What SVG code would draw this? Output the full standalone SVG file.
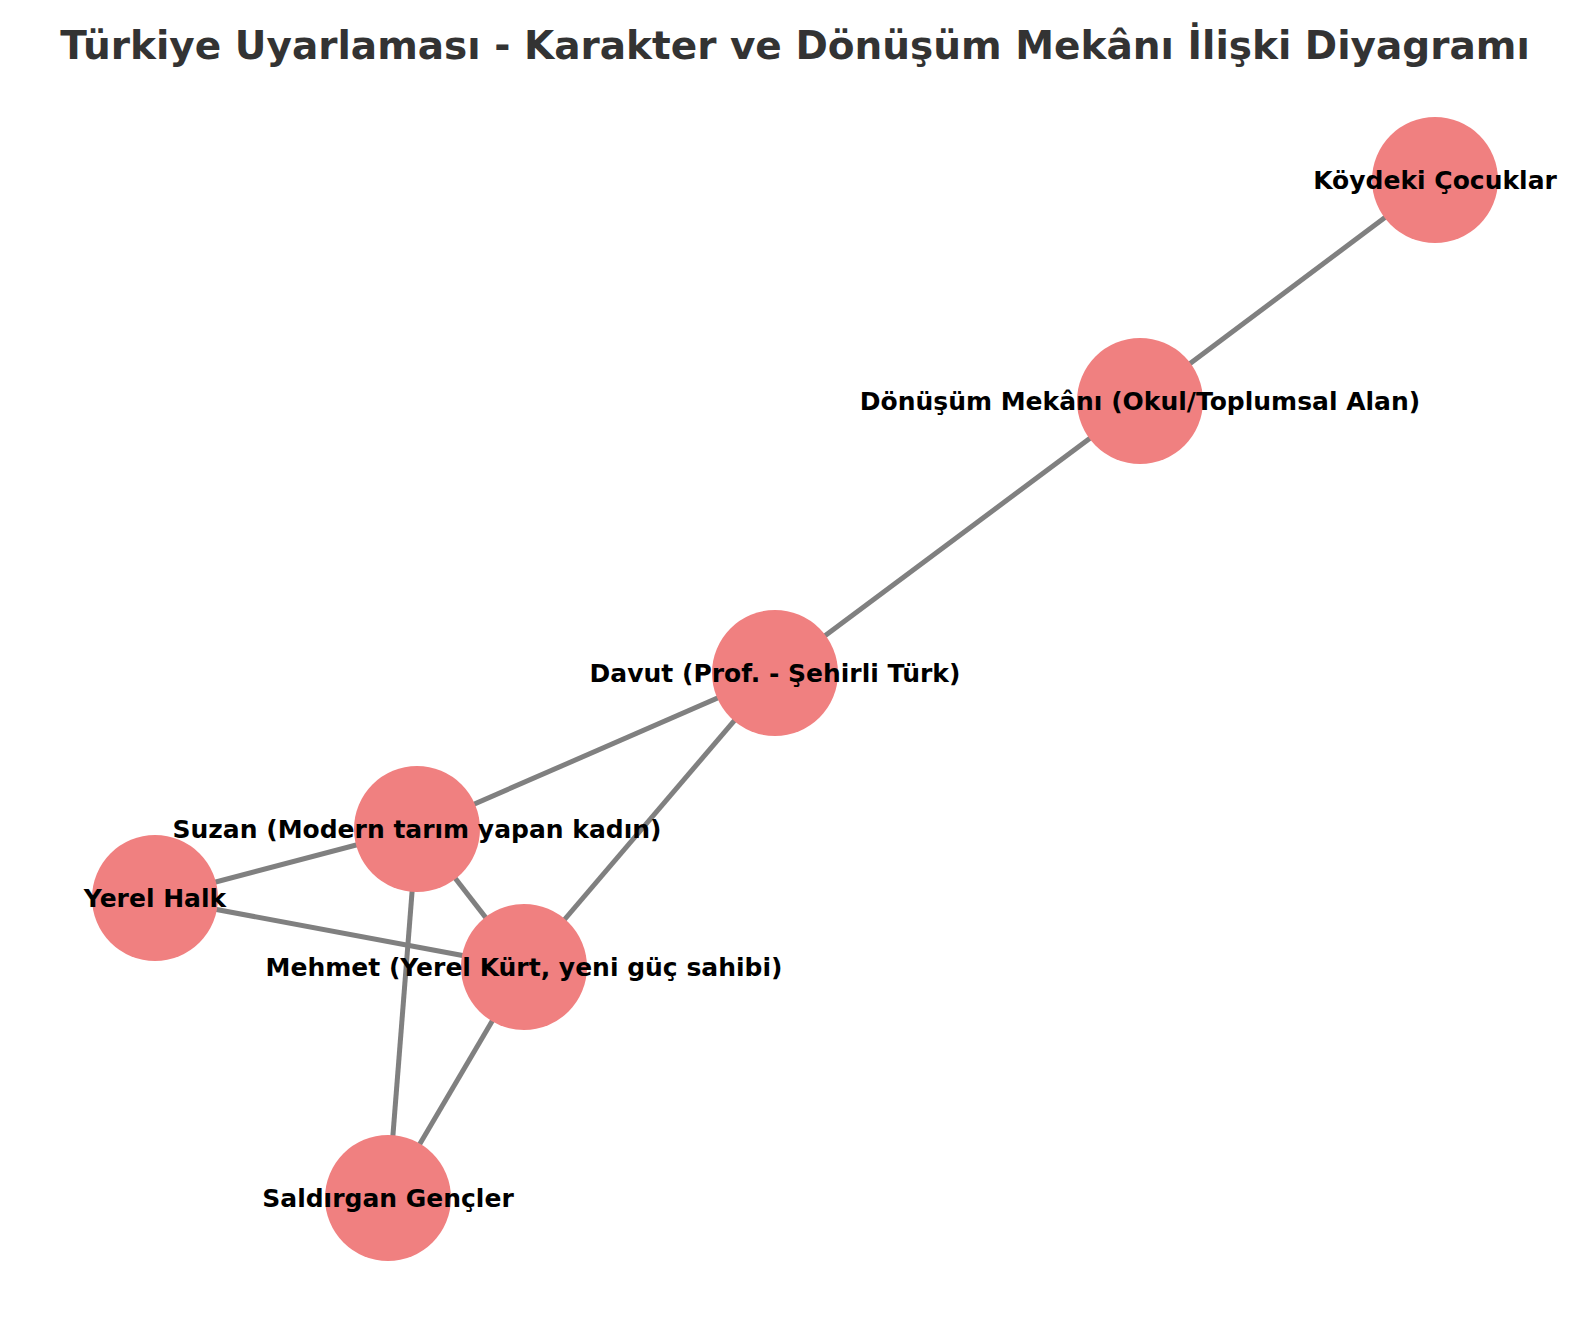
<svg xmlns="http://www.w3.org/2000/svg" width="1589" height="1325" viewBox="0 0 1589 1325">
<style>
.title{font-family:"DejaVu Sans",sans-serif;font-weight:bold;font-size:39px;fill:#333333;text-anchor:middle}
.node circle{fill:#F08080}
.node text{font-family:"DejaVu Sans",sans-serif;font-weight:bold;font-size:25px;fill:#000000;text-anchor:middle}
.edges line{stroke:#808080;stroke-width:5;stroke-linecap:butt}
</style>
<rect width="1589" height="1325" fill="#ffffff"/>
<text class="title" x="795" y="59">Türkiye Uyarlaması - Karakter ve Dönüşüm Mekânı İlişki Diyagramı</text>
<g id="connectors" class="edges">
<line x1="1435" y1="180" x2="1140" y2="401"/>
<line x1="1140" y1="401" x2="775" y2="673"/>
<line x1="775" y1="673" x2="417" y2="829"/>
<line x1="775" y1="673" x2="524" y2="967"/>
<line x1="417" y1="829" x2="155" y2="898"/>
<line x1="417" y1="829" x2="524" y2="967"/>
<line x1="417" y1="829" x2="388" y2="1198"/>
<line x1="155" y1="898" x2="524" y2="967"/>
<line x1="524" y1="967" x2="388" y2="1198"/>
</g>
<g id="node-koydeki-cocuklar" class="node"><circle cx="1435" cy="180" r="63"/><text x="1435" y="189">Köydeki Çocuklar</text></g>
<g id="node-donusum-mekani" class="node"><circle cx="1140" cy="401" r="63"/><text x="1140" y="410">Dönüşüm Mekânı (Okul/Toplumsal Alan)</text></g>
<g id="node-davut" class="node"><circle cx="775" cy="673" r="63"/><text x="775" y="682">Davut (Prof. - Şehirli Türk)</text></g>
<g id="node-suzan" class="node"><circle cx="417" cy="829" r="63"/><text x="417" y="838">Suzan (Modern tarım yapan kadın)</text></g>
<g id="node-yerel-halk" class="node"><circle cx="155" cy="898" r="63"/><text x="155" y="907">Yerel Halk</text></g>
<g id="node-mehmet" class="node"><circle cx="524" cy="967" r="63"/><text x="524" y="976">Mehmet (Yerel Kürt, yeni güç sahibi)</text></g>
<g id="node-saldirgan-gencler" class="node"><circle cx="388" cy="1198" r="63"/><text x="388" y="1207">Saldırgan Gençler</text></g>
</svg>
